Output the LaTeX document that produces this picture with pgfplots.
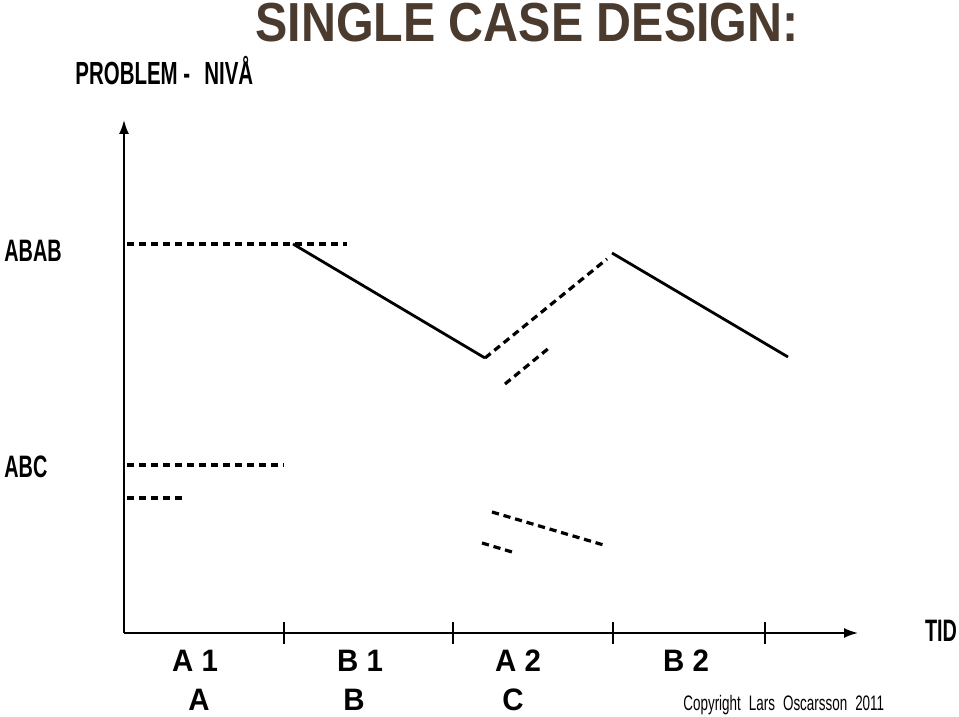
\documentclass[border=0pt]{standalone}
\usepackage{pgfplots}
\pgfplotsset{compat=1.18}
\usetikzlibrary{arrows.meta}
\usepackage{fontspec}
\setmainfont{Liberation Sans}
\newfontfamily\titlefont[FakeStretch=0.88]{Liberation Sans}
\newfontfamily\narrowfont[FakeStretch=0.64]{Liberation Sans}
\newfontfamily\lblfont[FakeStretch=0.95]{Liberation Sans}
\definecolor{titlebrown}{HTML}{4B3B2F}
\tikzset{lbl/.style={anchor=base, font=\lblfont\bfseries\fontsize{15.5}{18}\selectfont, inner sep=0pt},
  dsh/.style={black, line width=1.6pt, dash pattern=on 3.6pt off 2.4pt},
  sld/.style={black, line width=1.4pt}}
\begin{document}
\begin{tikzpicture}
\begin{axis}[
  x=0.5pt, y=0.5pt,
  xmin=124, xmax=858, ymin=84, ymax=597,
  axis lines=left,
  axis line style={line width=0.9pt, -{Latex[length=7pt,width=5pt]}},
  xtick={284,453,613,765}, xticklabels={},
  ytick=\empty,
  xtick align=center,
  major tick length=11pt,
  every tick/.style={black, line width=0.8pt},
  clip=false,
]
\path (axis cs:0,0) rectangle (axis cs:959,717);
% ABAB design
\addplot[dsh] coordinates {(127,473) (347,473)};
\addplot[sld] coordinates {(293,473) (485,359)};
\addplot[dsh] coordinates {(485,359) (607,458)};
\addplot[sld] coordinates {(612,464) (788,360)};
\addplot[dsh] coordinates {(505,333) (549,369)};
% ABC design
\addplot[dsh] coordinates {(127,252) (284,252)};
\addplot[dsh] coordinates {(127,219) (183,219)};
\addplot[dsh] coordinates {(492,205) (607,171)};
\addplot[dsh] coordinates {(482,174) (512,165)};
% texts
\node[anchor=base, text=titlebrown, font=\titlefont\bfseries\fontsize{27.5}{30}\selectfont, inner sep=0pt] at (axis cs:527,675) {SINGLE CASE DESIGN:};
\node[anchor=base west, font=\narrowfont\bfseries\fontsize{16}{18}\selectfont, inner sep=0pt] at (axis cs:75,632) {PROBLEM -\hspace{7pt}NIVÅ};
\node[anchor=base west, font=\narrowfont\bfseries\fontsize{15.5}{18}\selectfont, inner sep=0pt] at (axis cs:4,455) {ABAB};
\node[anchor=base west, font=\narrowfont\bfseries\fontsize{15.5}{18}\selectfont, inner sep=0pt] at (axis cs:4,239) {ABC};
\node[anchor=base, font=\narrowfont\bfseries\fontsize{15.5}{18}\selectfont, inner sep=0pt] at (axis cs:941,75) {TID};
\node[lbl] at (axis cs:195,45) {A 1};
\node[lbl] at (axis cs:360,45) {B 1};
\node[lbl] at (axis cs:518,45) {A 2};
\node[lbl] at (axis cs:686,45) {B 2};
\node[lbl] at (axis cs:199,6) {A};
\node[lbl] at (axis cs:354,6) {B};
\node[lbl] at (axis cs:513,6) {C};
\node[anchor=base west, font=\narrowfont\fontsize{10.5}{12}\selectfont, inner sep=0pt] at (axis cs:683,6) {Copyright\hspace{4pt}Lars\hspace{4pt}Oscarsson\hspace{4pt}2011};
\end{axis}
\end{tikzpicture}
\end{document}
